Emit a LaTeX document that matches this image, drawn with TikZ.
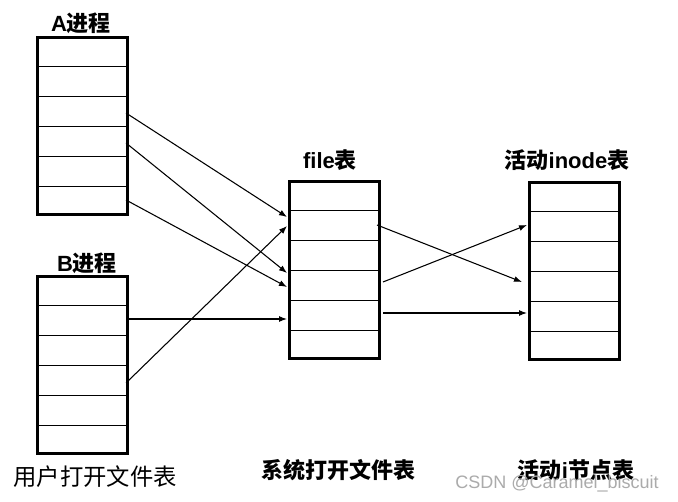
\documentclass[tikz,border=0pt]{standalone}
\usepackage{fontspec}
\setmainfont{Liberation Sans}
\newfontfamily\cjk{Noto Sans CJK SC}
\usetikzlibrary{arrows.meta,calc}
\tikzset{
  tablebox/.style={draw, line width=2.2pt, minimum width=67.5pt, minimum height=133pt, inner sep=0pt, anchor=north west},
  rowline/.style={line width=0.8pt},
  conn/.style={line width=0.8pt, -{Latex[length=6pt,width=4.5pt]}},
  title/.style={font=\fontsize{16.5}{18}\selectfont\bfseries, anchor=base, inner sep=0pt},
  caption/.style={font=\fontsize{17.5}{19}\selectfont, inner sep=0pt},
  boldcaption/.style={font=\fontsize{16.5}{19}\selectfont\bfseries, inner sep=0pt},
  wmark/.style={font=\fontsize{13.5}{16}\selectfont, text=black!33, inner sep=0pt}
}
\newcommand{\rows}[1]{%
  \foreach \k in {1,...,5} {
    \draw[rowline] ($(#1.north west)!\k/6!(#1.south west)$) -- ($(#1.north east)!\k/6!(#1.south east)$);
  }}
\begin{document}
\begin{tikzpicture}[x=0.75pt,y=-0.75pt]
\useasboundingbox[fill=white] (0,0) rectangle (678,502);
% tables
\node[tablebox] (A) at (36,36) {};
\node[tablebox] (B) at (36,275) {};
\node[tablebox] (F) at (288,180) {};
\node[tablebox] (I) at (528,181) {};
\rows{A}\rows{B}\rows{F}\rows{I}
% titles
\node[title] (tA) at (81,32) {A{\cjk 进程}};
\node[title] (tB) at (87,272) {B{\cjk 进程}};
\node[title] (tF) at (330,169) {file{\cjk 表}};
\node[title] (tI) at (567,169) {{\cjk 活动}inode{\cjk 表}};
% captions
\node[caption] (cA) at (95,477) {\cjk 用户打开文件表};
\node[boldcaption] (cF) at (338,470) {\cjk 系统打开文件表};
\node[boldcaption] (cI) at (576,470) {{\cjk 活动}i{\cjk 节点表}};
\node[wmark] (wm) at (557,484) {CSDN @Caramel\_biscuit};
% connector end points
\coordinate (a1) at (126,113);
\coordinate (a2) at (126,143);
\coordinate (a3) at (126,200);
\coordinate (b1) at (126,319);
\coordinate (b2) at (126,383);
\coordinate (f1) at (287,217);
\coordinate (f2) at (287,273);
\coordinate (f3) at (287,287);
\coordinate (f4) at (287,319);
\coordinate (f5) at (287,226);
\coordinate (g1) at (377,225);
\coordinate (g2) at (383,282);
\coordinate (g3) at (383,313);
\coordinate (i1) at (522,282);
\coordinate (i2) at (527,225);
\coordinate (i3) at (527,313);
% connectors
\draw[conn] (a1) -- (f1);
\draw[conn] (a2) -- (f2);
\draw[conn] (a3) -- (f3);
\draw[conn] (b1) -- (f4);
\draw[conn] (b2) -- (f5);
\draw[conn] (g1) -- (i1);
\draw[conn] (g2) -- (i2);
\draw[conn] (g3) -- (i3);
\end{tikzpicture}
\end{document}
